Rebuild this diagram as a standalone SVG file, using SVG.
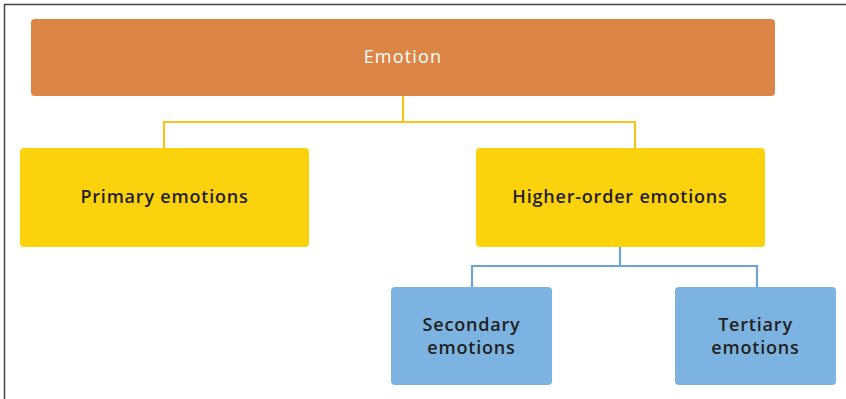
<svg xmlns="http://www.w3.org/2000/svg" width="846" height="399" viewBox="0 0 846 399">
<style>
.t{font-family:"Open Sans","Liberation Sans",sans-serif;font-size:18px;letter-spacing:0.8px;text-anchor:middle;font-weight:600;fill:#231f20}
.w{fill:#ffffff;font-weight:500;letter-spacing:1.2px}
.y{fill:#FCD20C}
.b{fill:#7DB3E0}
</style>
<rect width="846" height="399" fill="#ffffff"/>
<path d="M4.5,399 V4.5 H846" fill="none" stroke="#444444" stroke-width="1.5"/>
<g id="connectors" fill="none" stroke-width="2.2">
<path d="M403,96 V122 M164,148 V122 H635 V148" stroke="#F7C31A"/>
<path d="M620,247 V266 M472,287 V266 H757 V287" stroke="#6FA3D6"/>
</g>
<g id="emotion"><rect x="31" y="19" width="744" height="77" rx="4" fill="#DB8647"/><text class="t w" x="403" y="63">Emotion</text></g>
<g id="primary"><rect x="20" y="148" width="289" height="99" rx="4" class="y"/><text class="t" x="164.5" y="203">Primary emotions</text></g>
<g id="higher"><rect x="476" y="148" width="289" height="99" rx="4" class="y"/><text class="t" x="620" y="203">Higher-order emotions</text></g>
<g id="secondary"><rect x="391" y="287" width="161" height="98" rx="4" class="b"/><text class="t" x="471.5" y="331">Secondary</text><text class="t" x="471.5" y="354">emotions</text></g>
<g id="tertiary"><rect x="675" y="287" width="161" height="98" rx="4" class="b"/><text class="t" x="755.5" y="331">Tertiary</text><text class="t" x="755.5" y="354">emotions</text></g>
</svg>
